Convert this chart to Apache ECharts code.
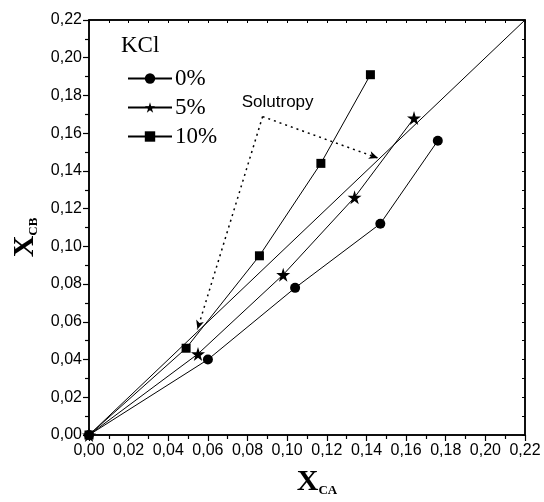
<!DOCTYPE html>
<html><head><meta charset="utf-8">
<script src="https://cdn.jsdelivr.net/npm/echarts@6/dist/echarts.min.js"></script>
<style>html,body{margin:0;padding:0;background:#fff}#c{width:544px;height:502px}</style>
</head><body><div id="c"></div>
<script>
const seriesNames = ['0%', '5%', '10%'];
const x0 = [0, 0.060, 0.104, 0.147, 0.176];
const y0 = [0, 0.040, 0.078, 0.112, 0.156];
const x5 = [0, 0.055, 0.098, 0.134, 0.164];
const y5 = [0, 0.043, 0.085, 0.126, 0.168];
const x10 = [0, 0.049, 0.086, 0.117, 0.142];
const y10 = [0, 0.046, 0.095, 0.144, 0.191];
const diagX = [0, 0.22];
const diagY = [0, 0.22];
const annotPeak = [0.0876, 0.1688];
const annotTipA = [0.0547, 0.0560];
const annotTipB = [0.1458, 0.1468];
const annotText = 'Solutropy';
const annotTextPos = [0.0952, 0.1765];

const zip = (a, b) => a.map((v, i) => [v, b[i]]);
const star = 'path://M50,0 L61,35 L98,35 L68,57 L79,91 L50,70 L21,91 L32,57 L2,35 L39,35 Z';
const fmt = v => v.toFixed(2).replace('.', ',');
const labelFont = "'Liberation Sans Narrow','Liberation Sans',Arial,sans-serif";
const serif = "'Liberation Serif','Times New Roman',serif";

const chart = echarts.init(document.getElementById('c'), null, {renderer: 'canvas'});
const axBase = () => ({
  type: 'value', min: 0, max: 0.22, interval: 0.02,
  axisLine: {show: true, onZero: false, lineStyle: {color: '#000', width: 1.5}},
  splitLine: {show: false}
});
const titleRich = {
  b: {fontFamily: serif, fontWeight: 'bold', fontSize: 30, color: '#000', verticalAlign: 'bottom'},
  s: {fontFamily: serif, fontWeight: 'bold', fontSize: 13, color: '#000', padding: [16, 0, 0, 0], verticalAlign: 'bottom'}
};
chart.setOption({
  animation: false,
  grid: {left: 89, right: 19, top: 20, bottom: 66, show: true, borderColor: '#000', borderWidth: 1.5, backgroundColor: 'transparent'},
  legend: {
    data: seriesNames, orient: 'vertical', left: 122, top: 62,
    itemWidth: 44, itemHeight: 13, itemGap: 6,
    textStyle: {fontFamily: serif, fontSize: 23, color: '#000', lineHeight: 21, padding: [0, 0, 0, -2]}
  },
  xAxis: [
    Object.assign(axBase(), {
      position: 'bottom',
      axisTick: {show: true, inside: false, length: 6, lineStyle: {color: '#000', width: 1.2}},
      minorTick: {show: true, splitNumber: 2, length: 4, lineStyle: {color: '#000', width: 1.2}},
      axisLabel: {formatter: fmt, fontFamily: labelFont, fontSize: 16, color: '#000', margin: 8},
      name: '{b|X}{s|CA}', nameLocation: 'middle', nameGap: 32,
      nameTextStyle: {rich: titleRich, padding: [0, 0, 0, 20]}
    }),
    Object.assign(axBase(), {
      position: 'top', interval: 0.01,
      axisTick: {show: true, inside: true, length: 3, lineStyle: {color: '#000'}},
      axisLabel: {show: false}
    })
  ],
  yAxis: [
    Object.assign(axBase(), {
      position: 'left',
      axisTick: {show: true, inside: false, length: 6, lineStyle: {color: '#000', width: 1.2}},
      minorTick: {show: true, splitNumber: 2, length: 4, lineStyle: {color: '#000', width: 1.2}},
      axisLabel: {formatter: fmt, fontFamily: labelFont, fontSize: 16, color: '#000', margin: 7},
      name: '{b|X}{s|CB}', nameLocation: 'middle', nameGap: 48, nameRotate: 90,
      nameTextStyle: {rich: titleRich, padding: [0, 20, 0, 0]}
    }),
    Object.assign(axBase(), {
      position: 'right', interval: 0.01,
      axisTick: {show: true, inside: true, length: 3, lineStyle: {color: '#000'}},
      axisLabel: {show: false}
    })
  ],
  graphic: [{
    type: 'text', left: 121, top: 34,
    style: {text: 'KCl', font: "23px 'Liberation Serif','Times New Roman',serif", fill: '#000'}
  }],
  series: [
    {name: '0%', type: 'line', data: zip(x0, y0), symbol: 'circle', symbolSize: 10,
     lineStyle: {color: '#000', width: 1}, itemStyle: {color: '#000'}},
    {name: '5%', type: 'line', data: zip(x5, y5), symbol: star, symbolSize: 14,
     lineStyle: {color: '#000', width: 1}, itemStyle: {color: '#000'}},
    {name: '10%', type: 'line', data: zip(x10, y10), symbol: 'rect', symbolSize: 9,
     lineStyle: {color: '#000', width: 1}, itemStyle: {color: '#000'}},
    {name: 'frame', type: 'line', data: [], xAxisIndex: 1, yAxisIndex: 1, silent: true},
    {name: 'diag', type: 'line', data: zip(diagX, diagY), symbol: 'none',
     lineStyle: {color: '#000', width: 1}, silent: true,
     markLine: {
       silent: true, symbol: ['none', 'arrow'], symbolSize: [6, 9],
       lineStyle: {type: [2, 4], color: '#000', width: 1.5}, label: {show: false},
       data: [
         [{coord: annotPeak}, {coord: annotTipA}],
         [{coord: annotPeak}, {coord: annotTipB}]
       ]
     },
     markPoint: {
       symbol: 'circle', symbolSize: 0,
       label: {show: true, formatter: annotText, fontFamily: labelFont, fontSize: 17, color: '#000'},
       data: [{coord: annotTextPos}]
     }
    }
  ]
});
</script></body></html>
